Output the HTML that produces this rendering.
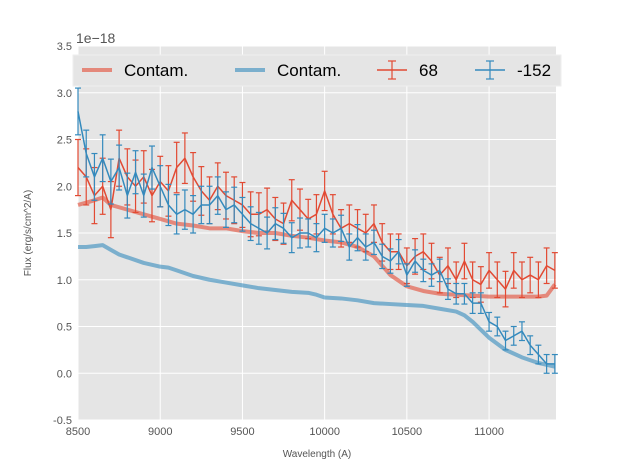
<!DOCTYPE html>
<html><head><meta charset="utf-8"><style>
body{margin:0;background:#fff;font-family:"Liberation Sans",sans-serif}
svg text{font-family:"Liberation Sans",sans-serif}
</style></head><body>
<svg id="chart" width="617" height="467" xmlns="http://www.w3.org/2000/svg"></svg>
<script>
const waves = [];
for (let w = 8500; w <= 11400; w += 50) waves.push(w);
const fluxA = [2.2,2.1,1.9,2.0,1.75,2.3,2.1,2.0,2.1,1.9,2.05,1.95,2.2,2.3,2.1,1.95,1.85,2.0,1.9,1.85,1.8,1.7,1.7,1.75,1.65,1.6,1.85,1.75,1.65,1.7,1.95,1.7,1.55,1.6,1.55,1.5,1.6,1.4,1.3,1.3,1.15,1.25,1.3,1.2,1.05,1.15,1.0,1.2,1.0,0.95,1.1,1.0,0.9,1.1,1.0,1.05,1.0,1.15,1.1];
const errA = [0.3,0.3,0.3,0.3,0.3,0.3,0.3,0.28,0.28,0.28,0.27,0.27,0.27,0.27,0.26,0.26,0.25,0.25,0.25,0.25,0.24,0.24,0.23,0.23,0.23,0.22,0.22,0.22,0.21,0.21,0.21,0.21,0.2,0.2,0.2,0.2,0.2,0.2,0.19,0.19,0.19,0.19,0.19,0.19,0.19,0.19,0.19,0.19,0.19,0.19,0.19,0.19,0.19,0.19,0.19,0.19,0.19,0.19,0.19];
const fluxB = [2.8,2.35,2.1,2.3,2.05,2.2,1.9,2.15,1.9,2.2,2.0,1.8,1.7,1.75,1.7,1.8,1.8,1.9,1.75,1.8,1.7,1.6,1.55,1.5,1.6,1.55,1.45,1.5,1.5,1.45,1.55,1.5,1.55,1.35,1.45,1.35,1.4,1.25,1.2,1.3,1.05,1.2,1.1,1.05,1.1,0.9,0.85,0.85,0.75,0.75,0.55,0.5,0.35,0.4,0.45,0.3,0.2,0.1,0.1];
const errB = [0.25,0.25,0.25,0.25,0.24,0.24,0.24,0.23,0.23,0.23,0.22,0.22,0.21,0.21,0.2,0.2,0.2,0.2,0.19,0.19,0.18,0.18,0.17,0.17,0.17,0.16,0.16,0.16,0.15,0.15,0.15,0.15,0.14,0.14,0.14,0.14,0.13,0.13,0.13,0.13,0.12,0.12,0.12,0.12,0.12,0.11,0.11,0.11,0.11,0.11,0.1,0.1,0.1,0.1,0.1,0.1,0.1,0.1,0.1];
const contWA = [8500,8600,8650,8700,8800,8900,9000,9100,9200,9300,9400,9500,9600,9700,9800,9900,10000,10100,10200,10300,10400,10500,10600,10700,10800,10900,11000,11100,11200,11300,11350,11400];
const contA = [1.8,1.85,1.88,1.8,1.75,1.7,1.65,1.6,1.58,1.55,1.55,1.52,1.5,1.5,1.47,1.45,1.42,1.4,1.35,1.25,1.05,0.93,0.88,0.85,0.84,0.83,0.82,0.82,0.82,0.82,0.83,0.95];
const contWB = [8500,8550,8600,8650,8700,8750,8800,8900,9000,9050,9100,9200,9300,9400,9500,9600,9700,9800,9900,9950,10000,10100,10200,10300,10400,10500,10600,10700,10800,10850,10900,11000,11100,11200,11300,11400];
const contB = [1.35,1.35,1.36,1.37,1.32,1.27,1.24,1.18,1.14,1.13,1.1,1.04,1.0,0.97,0.94,0.91,0.89,0.87,0.86,0.84,0.81,0.8,0.78,0.75,0.74,0.73,0.72,0.69,0.66,0.62,0.55,0.38,0.25,0.17,0.11,0.07];
const xTicks = [8500,9000,9500,10000,10500,11000];
const yTicks = [-0.5,0.0,0.5,1.0,1.5,2.0,2.5,3.0,3.5];

const L=78,R=556,T=46,B=420;
const xMin=8500,xMax=11407,yMin=-0.5,yMax=3.5;
const X=v=>L+(v-xMin)/(xMax-xMin)*(R-L);
const Y=v=>B-(v-yMin)/(yMax-yMin)*(B-T);
const svg=document.getElementById('chart');
const NS='http://www.w3.org/2000/svg';
function mk(tag,attrs,parent){const e=document.createElementNS(NS,tag);for(const k in attrs)e.setAttribute(k,attrs[k]);(parent||svg).appendChild(e);return e;}

const bg=mk('rect',{x:L,y:T,width:R-L,height:B-T,fill:'#e5e5e5'});


xTicks.forEach(t=>{
  const g=mk('line',{x1:X(t),x2:X(t),y1:T,y2:B,stroke:'#fff','stroke-width':1});
  
  
  const tx=mk('text',{x:X(t),y:B+15,'text-anchor':'middle','font-size':11,fill:'#555'});
  tx.textContent=t;
  
  
});
yTicks.forEach(t=>{
  const g=mk('line',{x1:L,x2:R,y1:Y(t),y2:Y(t),stroke:'#fff','stroke-width':1});
  
  
  const tx=mk('text',{x:L-6,y:Y(t)+4,'text-anchor':'end','font-size':11,fill:'#555'});
  tx.textContent=t.toFixed(1);
  
  
});
function line(xs,ys,color,w,op,name){
  const p=mk('polyline',{points:xs.map((x,i)=>X(x)+','+Y(ys[i])).join(' '),fill:'none',stroke:color,'stroke-width':w,'stroke-opacity':op,'stroke-linejoin':'round'});
  
  
}
line(contWA,contA,'#E24A33',4,0.6,'contam-line-68');
line(contWB,contB,'#348ABD',4,0.6,'contam-line-neg152');
function errs(vals,er,color,name){
  const g=mk('g',{stroke:color,'stroke-width':1.2});
  
  
  waves.forEach((w,i)=>{
    const x=X(w),y1=Y(vals[i]-er[i]),y2=Y(vals[i]+er[i]);
    mk('line',{x1:x,x2:x,y1:y1,y2:y2},g);
    mk('line',{x1:x-3,x2:x+3,y1:y1,y2:y1},g);
    mk('line',{x1:x-3,x2:x+3,y1:y2,y2:y2},g);
  });
}
errs(fluxA,errA,'#E24A33','errorbars-68');
line(waves,fluxA,'#E24A33',1.5,1,'series-68');
errs(fluxB,errB,'#348ABD','errorbars-neg152');
line(waves,fluxB,'#348ABD',1.5,1,'series-neg152');

const off=mk('text',{x:76,y:43,'font-size':14,fill:'#555'});off.textContent='1e\u221218';


const xl=mk('text',{x:(L+R)/2,y:457,'text-anchor':'middle','font-size':10,fill:'#555'});xl.textContent='Wavelength (A)';


const yl=mk('text',{x:0,y:0,'text-anchor':'middle','font-size':10,fill:'#555',transform:`translate(31,${(T+B)/2}) rotate(-90)`});yl.textContent='Flux (erg/s/cm^2/A)';



const lg=mk('g',{});


mk('rect',{x:73,y:55,width:488,height:31,fill:'#e5e5e5',stroke:'#eeeeee'},lg);
const entries=[[82,'Contam.','#E24A33',0],[235,'Contam.','#348ABD',0],[377,'68','#E24A33',1],[475,'-152','#348ABD',1]];
entries.forEach(([x,lab,c,eb])=>{
  const ge=mk('g',{},lg);
  
  
  if(!eb){mk('line',{x1:x,x2:x+30,y1:70,y2:70,stroke:c,'stroke-width':4,'stroke-opacity':0.6},ge);}
  else{
    mk('line',{x1:x,x2:x+30,y1:70,y2:70,stroke:c,'stroke-width':1.5},ge);
    mk('line',{x1:x+15,x2:x+15,y1:61,y2:79,stroke:c,'stroke-width':1.2},ge);
    mk('line',{x1:x+11,x2:x+19,y1:61,y2:61,stroke:c,'stroke-width':1.2},ge);
    mk('line',{x1:x+11,x2:x+19,y1:79,y2:79,stroke:c,'stroke-width':1.2},ge);
  }
  const t=mk('text',{x:x+42,y:76,'font-size':17,fill:'#000'},ge);t.textContent=lab;
});
</script>
</body></html>
